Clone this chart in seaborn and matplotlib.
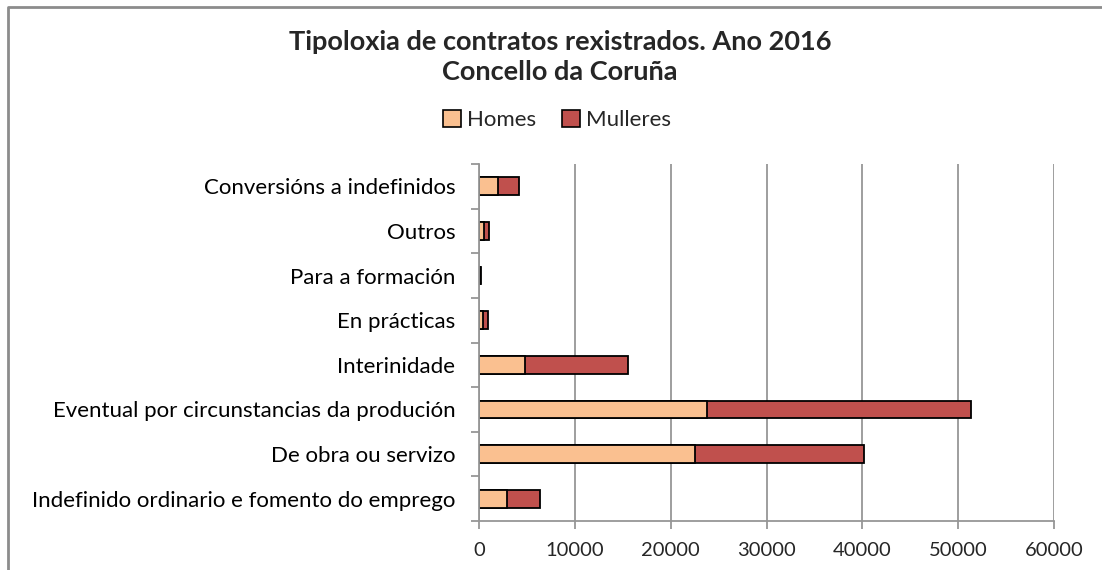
import matplotlib
matplotlib.use("Agg")
import matplotlib.pyplot as plt
import seaborn as sns
import pandas as pd
from matplotlib.lines import Line2D
from matplotlib.patches import Patch

# Tipoloxia de contratos rexistrados, Concello da Coruña, 2016

categorias = ["Conversións a indefinidos", "Outros", "Para a formación", "En prácticas",
              "Interinidade", "Eventual por circunstancias da produción",
              "De obra ou servizo", "Indefinido ordinario e fomento do emprego"]
homes = [2020, 560, 110, 380, 4800, 23840, 22520, 2890]
mulleres = [2130, 490, 130, 560, 10750, 27530, 17630, 3470]

col_homes = "#FAC090"
col_mulleres = "#C0504D"

df = pd.DataFrame({"categoria": categorias, "Homes": homes, "Mulleres": mulleres})
df["total"] = df["Homes"] + df["Mulleres"]

sns.set_style("white")
plt.rcParams["font.family"] = ["Lato", "DejaVu Sans"]

fig = plt.figure(figsize=(11.02, 5.70), dpi=100)
ax = fig.add_axes([479 / 1102, 1 - 521 / 570, (1054 - 479) / 1102, (521 - 164) / 570])

# stacked bars: total first (Mulleres colour), Homes on top
sns.barplot(data=df, y="categoria", x="total", color=col_mulleres, width=0.4,
            edgecolor="black", linewidth=1.3, saturation=1, ax=ax, orient="h")
sns.barplot(data=df, y="categoria", x="Homes", color=col_homes, width=0.4,
            edgecolor="black", linewidth=1.3, saturation=1, ax=ax, orient="h")

ax.set_xlim(0, 60000)
ax.set_ylim(7.5, -0.5)
ax.set_xticks(range(0, 60001, 10000))
ax.set_xlabel("")
ax.set_ylabel("")
ax.xaxis.grid(True, color="#969696", linewidth=1.3)
ax.set_axisbelow(True)
for s in ["top", "right"]:
    ax.spines[s].set_visible(False)
for s in ["left", "bottom"]:
    ax.spines[s].set_color("#969696")
    ax.spines[s].set_linewidth(1.3)

ax.set_yticks([i + 0.5 for i in range(-1, 8)], minor=True)
ax.tick_params(axis="y", which="major", length=0, labelsize=16, pad=17, labelcolor="black")
ax.tick_params(axis="y", which="minor", length=6, color="#969696", width=1.3, direction="out")
ax.tick_params(axis="x", which="major", length=6, color="#969696", width=1.3,
               direction="out", labelsize=14.5, pad=9)
ax.tick_params(left=True, bottom=True)
ax.yaxis.set_tick_params(which="minor", left=True)

fig.text(560 / 1102, 1 - 42 / 570, "Tipoloxia de contratos rexistrados. Ano 2016",
         ha="center", va="center", fontsize=19.5, fontweight="bold")
fig.text(560 / 1102, 1 - 72 / 570, "Concello da Coruña",
         ha="center", va="center", fontsize=19.5, fontweight="bold")

handles = [Patch(facecolor=col_homes, edgecolor="black", linewidth=1.2, label="Homes"),
           Patch(facecolor=col_mulleres, edgecolor="black", linewidth=1.2, label="Mulleres")]
fig.legend(handles=handles, loc="center", bbox_to_anchor=(557 / 1102, 1 - 120 / 570),
           ncol=2, frameon=False, fontsize=16, handlelength=0.8, handleheight=0.8,
           handletextpad=0.25, columnspacing=1.2)

# chart border (top and left visible)
fig.add_artist(Line2D([8 / 1102, 8 / 1102, 1.0], [0.0, 1 - 7 / 570, 1 - 7 / 570],
                      transform=fig.transFigure, color="#8c8c8c", linewidth=2))

fig.savefig("out.png", dpi=100)
